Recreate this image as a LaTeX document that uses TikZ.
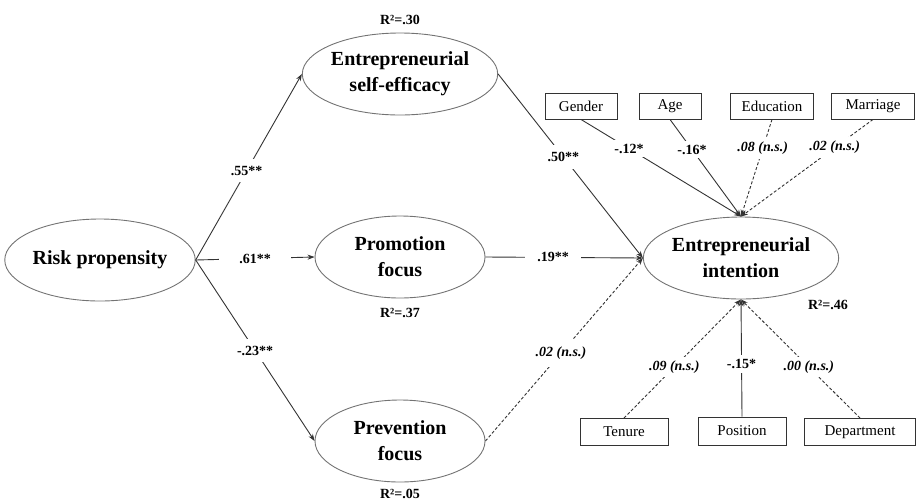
\documentclass[tikz,border=0pt]{standalone}
\usepackage{fontspec}
\setmainfont{Liberation Serif}
\usetikzlibrary{shapes.geometric,arrows.meta}
\begin{document}
\begin{tikzpicture}[x=1pt,y=-1pt,
  latent/.style={ellipse,draw=black!55,line width=0.9pt,minimum width=170pt,minimum height=82pt,inner sep=0pt,align=center,font=\fontsize{20}{26}\selectfont\bfseries},
  ctrl/.style={rectangle,draw=black!80,line width=0.9pt,minimum height=26pt,inner sep=0pt,font=\fontsize{15}{18}\selectfont},
  rsq/.style={font=\fontsize{14}{16}\selectfont\bfseries,inner sep=0pt},
  path/.style={draw=black!80,line width=0.9pt,-{Stealth[length=7pt,width=5pt]}},
  nspath/.style={path,dashed,dash pattern=on 3pt off 2pt},
  lab/.style={fill=white,inner sep=4pt,font=\fontsize{14}{16}\selectfont\bfseries},
  nslab/.style={lab,font=\fontsize{14}{16}\selectfont\bfseries\itshape}
]
\useasboundingbox (0,0) rectangle (917,501);
\node[latent] (RP) at (100,260) {Risk propensity};
\node[latent] (ESE) at (400,74) {Entrepreneurial\\self-efficacy};
\node[latent] (PF) at (400,257) {Promotion\\focus};
\node[latent] (PVF) at (400,441) {Prevention\\focus};
\node[latent] (EI) at (741,258) {Entrepreneurial\\intention};
\node[rsq] (r1) at (400,20) {R²=.30};
\node[rsq] (r2) at (400,313) {R²=.37};
\node[rsq] (r3) at (400,494) {R²=.05};
\node[rsq] (r4) at (828,305) {R²=.46};
\node[ctrl,minimum width=72pt] (gen) at (581,106) {Gender};
\node[ctrl,minimum width=62pt] (age) at (670,106) {Age};
\node[ctrl,minimum width=83pt] (edu) at (772,106) {Education};
\node[ctrl,minimum width=83pt] (mar) at (873,106) {Marriage};
\node[ctrl,minimum width=88pt,minimum height=27pt] (ten) at (624,432) {Tenure};
\node[ctrl,minimum width=88pt,minimum height=28pt] (pos) at (742,431) {Position};
\node[ctrl,minimum width=111pt,minimum height=27pt] (dep) at (860,432) {Department};
\draw[path] (RP.east) -- node[lab,pos=0.48,inner ysep=7pt] {.55**} (ESE.west);
\draw[path] (RP.east) -- node[lab,pos=0.5,inner xsep=20pt] {.61**} (PF.west);
\draw[path] (RP.east) -- node[lab,pos=0.5,inner ysep=7pt] {-.23**} (PVF.west);
\draw[path] (ESE.east) -- node[lab,pos=0.45,inner ysep=7pt] {.50**} (EI.west);
\draw[path] (PF.east) -- node[lab,pos=0.43,inner xsep=12pt] {.19**} (EI.west);
\draw[nspath] (PVF.east) -- node[nslab,pos=0.48,inner ysep=7pt] {.02 (n.s.)} (EI.west);
\draw[path] (gen.south) -- node[lab,pos=0.3] {-.12*} (EI.north);
\draw[path] (age.south) -- node[lab,pos=0.31] {-.16*} (EI.north);
\draw[nspath] (edu.south) -- node[nslab,pos=0.3] {.08 (n.s.)} (EI.north);
\draw[nspath] (mar.south) -- node[nslab,pos=0.29] {.02 (n.s.)} (EI.north);
\draw[nspath] (ten.north) -- node[nslab,pos=0.43] {.09 (n.s.)} (EI.south);
\draw[path] (pos.north) -- node[lab,pos=0.45] {-.15*} (EI.south);
\draw[nspath] (dep.north) -- node[nslab,pos=0.43] {.00 (n.s.)} (EI.south);
\end{tikzpicture}
\end{document}
